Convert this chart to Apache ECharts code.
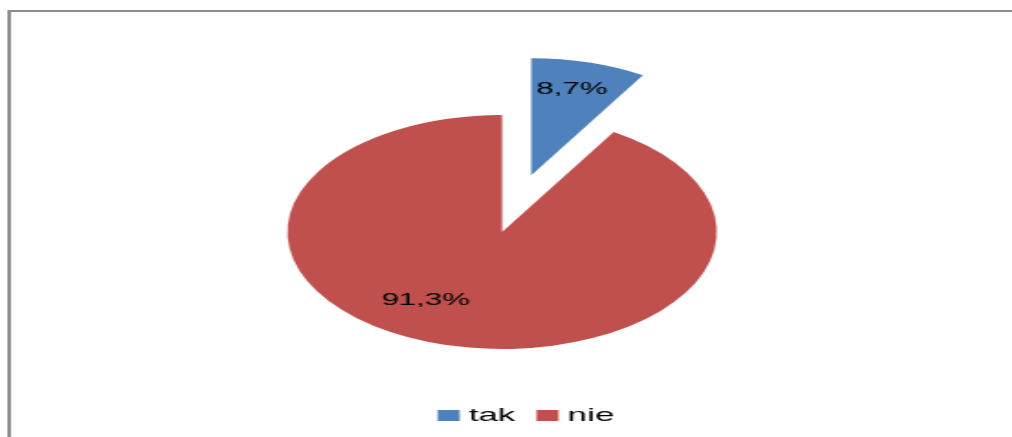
<!DOCTYPE html>
<html>
<head>
<meta charset="utf-8">
<script src="https://cdn.jsdelivr.net/npm/echarts@6/dist/echarts.min.js"></script>
<style>
  html, body { margin: 0; padding: 0; background: #fff; overflow: hidden; }
  #wrap { width: 1012px; height: 437px; overflow: hidden; position: relative; }
  /* the chart is laid out narrow and stretched horizontally, like a resized office chart */
  #chart { position: absolute; left: 0; top: 0; width: 552px; height: 437px;
           transform: scaleX(1.835); transform-origin: 0 0; }
</style>
</head>
<body>
<div id="wrap"><div id="chart"></div></div>
<script>
// answers and their shares in percent
const categories = ['tak', 'nie'];
const shares = [8.7, 91.3];
const colors = ['#4F81BD', '#C0504D'];

const fmt = v => v.toFixed(1).replace('.', ',') + '%';

const labelOffsets = [[5.5, -26.8], [-25, 8.7]];

const chart = echarts.init(document.getElementById('chart'), null, { renderer: 'canvas' });

chart.setOption({
  animation: false,
  backgroundColor: '#fff',
  graphic: [{
    type: 'rect',
    shape: { x: 5, y: 11, width: 700, height: 600 },
    style: { fill: 'none', stroke: '#8c8c8c', lineWidth: 2 },
    silent: true
  }],
  legend: {
    data: categories,
    left: 233.5,
    top: 401,
    itemWidth: 12,
    itemHeight: 11,
    itemGap: 11.5,
    icon: 'rect',
    textStyle: { fontFamily: 'Liberation Sans', fontSize: 19, color: '#000' },
    selectedMode: false
  },
  series: [{
    type: 'pie',
    center: [273.6, 232],
    radius: 117,
    startAngle: 90,
    clockwise: true,
    selectedMode: 'single',
    selectedOffset: 59,
    emphasis: { disabled: true },
    labelLine: { show: false },
    data: categories.map((name, i) => ({
      name,
      value: shares[i],
      selected: i === 0,
      itemStyle: { color: colors[i] },
      label: { offset: labelOffsets[i] },
      select: { label: { offset: labelOffsets[i] } }
    })),
    label: {
      show: true,
      position: 'inside',
      formatter: p => fmt(p.value),
      fontFamily: 'Liberation Sans',
      fontSize: 17,
      color: '#000'
    }
  }]
});
</script>
</body>
</html>
